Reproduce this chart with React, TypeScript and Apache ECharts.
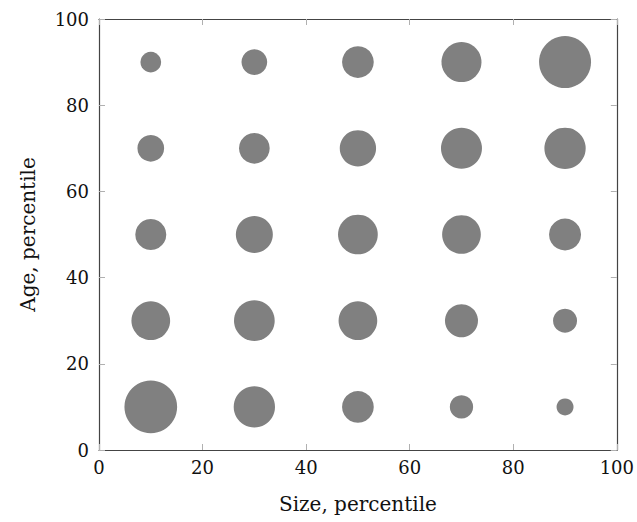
import React, { useEffect, useRef } from "react";
import * as echarts from "echarts";

const sizePct = [10, 30, 50, 70, 90];
const agePct = [90, 70, 50, 30, 10];
// bubble weight (marker diameter) per age row (top to bottom), per size column (left to right)
const weights = [
  [20.7, 25.7, 31.7, 40, 52],
  [26.7, 30.7, 36.3, 41, 41.3],
  [31, 37, 39.7, 38.7, 32],
  [38.7, 40.7, 38.7, 33, 24],
  [52.7, 41.3, 31.7, 23.3, 17],
];
const xTicks = [0, 20, 40, 60, 80, 100];
const yTicks = [0, 20, 40, 60, 80, 100];
const xTitle = "Size, percentile";
const yTitle = "Age, percentile";

const FONT = "DejaVu Serif";

export default function App() {
  const ref = useRef<HTMLDivElement>(null);
  useEffect(() => {
    if (!ref.current) return;
    const chart = echarts.init(ref.current, null, { renderer: "svg" });
    const data: number[][] = [];
    agePct.forEach((a, i) => {
      sizePct.forEach((s, j) => {
        data.push([s, a, weights[i][j]]);
      });
    });
    const tickStyle = { show: true, inside: true, length: 6, lineStyle: { color: "#b0b0b0", width: 1 } };
    const lineStyle = { show: true, onZero: false, lineStyle: { color: "#444444", width: 1.2 } };
    chart.setOption({
      animation: false,
      backgroundColor: "#ffffff",
      grid: { left: 99, top: 19, right: 18, bottom: 72, containLabel: false },
      xAxis: [
        {
          type: "value",
          min: xTicks[0],
          max: xTicks[xTicks.length - 1],
          interval: 20,
          position: "bottom",
          axisLine: lineStyle,
          axisTick: tickStyle,
          splitLine: { show: false },
          axisLabel: { color: "#111", fontFamily: FONT, fontSize: 18, margin: 8 },
          name: xTitle,
          nameLocation: "middle",
          nameGap: 44,
          nameTextStyle: { color: "#111", fontFamily: FONT, fontSize: 20 },
        },
        {
          type: "value",
          min: 0,
          max: 100,
          interval: 20,
          position: "top",
          axisLine: lineStyle,
          axisTick: tickStyle,
          axisLabel: { show: false },
          splitLine: { show: false },
        },
      ],
      yAxis: [
        {
          type: "value",
          min: yTicks[0],
          max: yTicks[yTicks.length - 1],
          interval: 20,
          position: "left",
          axisLine: lineStyle,
          axisTick: tickStyle,
          splitLine: { show: false },
          axisLabel: { color: "#111", fontFamily: FONT, fontSize: 18, margin: 10 },
          name: yTitle,
          nameLocation: "middle",
          nameGap: 61,
          nameTextStyle: { color: "#111", fontFamily: FONT, fontSize: 20 },
        },
        {
          type: "value",
          min: 0,
          max: 100,
          interval: 20,
          position: "right",
          axisLine: lineStyle,
          axisTick: tickStyle,
          axisLabel: { show: false },
          splitLine: { show: false },
        },
      ],
      series: [
        {
          type: "scatter",
          data,
          symbol: "circle",
          symbolSize: (v: number[]) => v[2],
          itemStyle: { color: "#808080", opacity: 1 },
        },
      ],
    });
    return () => chart.dispose();
  }, []);
  return <div ref={ref} style={{ width: 637, height: 522, position: "absolute", left: 0, top: 0 }} />;
}
